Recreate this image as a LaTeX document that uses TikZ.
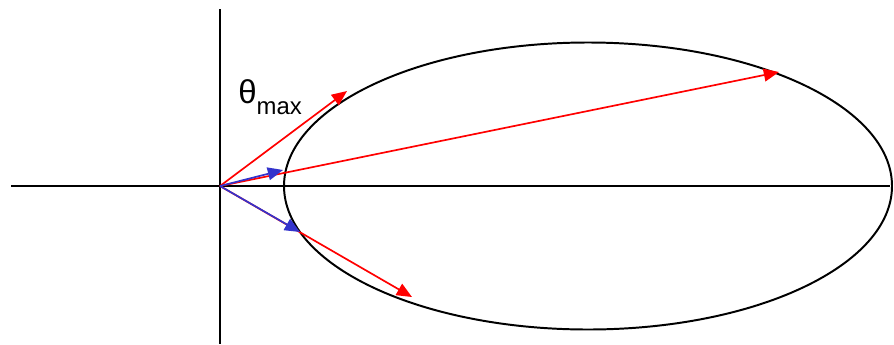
\documentclass[tikz,border=0pt]{standalone}
\usepackage{fontspec}
\setmainfont{Liberation Sans}
\usetikzlibrary{arrows.meta}
\definecolor{vecblue}{RGB}{51,51,204}
\tikzset{
  axisline/.style={line width=1.4pt, draw=black},
  vecarr/.style={-{Triangle[length=3.8mm, width=3.2mm]}, line width=1.2pt},
  redvec/.style={vecarr, draw=red, fill=red},
  bluevec/.style={vecarr, draw=vecblue, fill=vecblue},
}

\begin{document}
\begin{tikzpicture}[x=0.025cm, y=-0.025cm]
  \useasboundingbox (0,0) rectangle (894,344);
  % axes
  \coordinate (O) at (220,186);
  \coordinate (xl) at (11,186);
  \coordinate (xr) at (890,186);
  \coordinate (yt) at (220,9);
  \coordinate (yb) at (220,344);
  \draw[axisline] (xl) -- (xr);
  \draw[axisline] (yt) -- (yb);
  % ellipse
  \coordinate (c) at (588,186);
  \draw[axisline] (c) ellipse [x radius=304, y radius=143.5];
  % vector ends
  \coordinate (rmax) at (347,91);
  \coordinate (rfar) at (779,72);
  \coordinate (rlow) at (412,297);
  \coordinate (bup) at (283,170);
  \coordinate (blow) at (300,232);
  \draw[redvec] (O) -- (rmax);
  \draw[redvec] (O) -- (rfar);
  \draw[redvec] (O) -- (rlow);
  \draw[bluevec] (O) -- (bup);
  \draw[bluevec] (O) -- (blow);
  % label
  \node[anchor=base west, inner sep=0pt] (thmax) at (238,103)
    {\fontsize{23.5}{28}\selectfont θ\raisebox{-0.275cm}{\fontsize{17}{20}\selectfont max}};
\end{tikzpicture}
\end{document}
